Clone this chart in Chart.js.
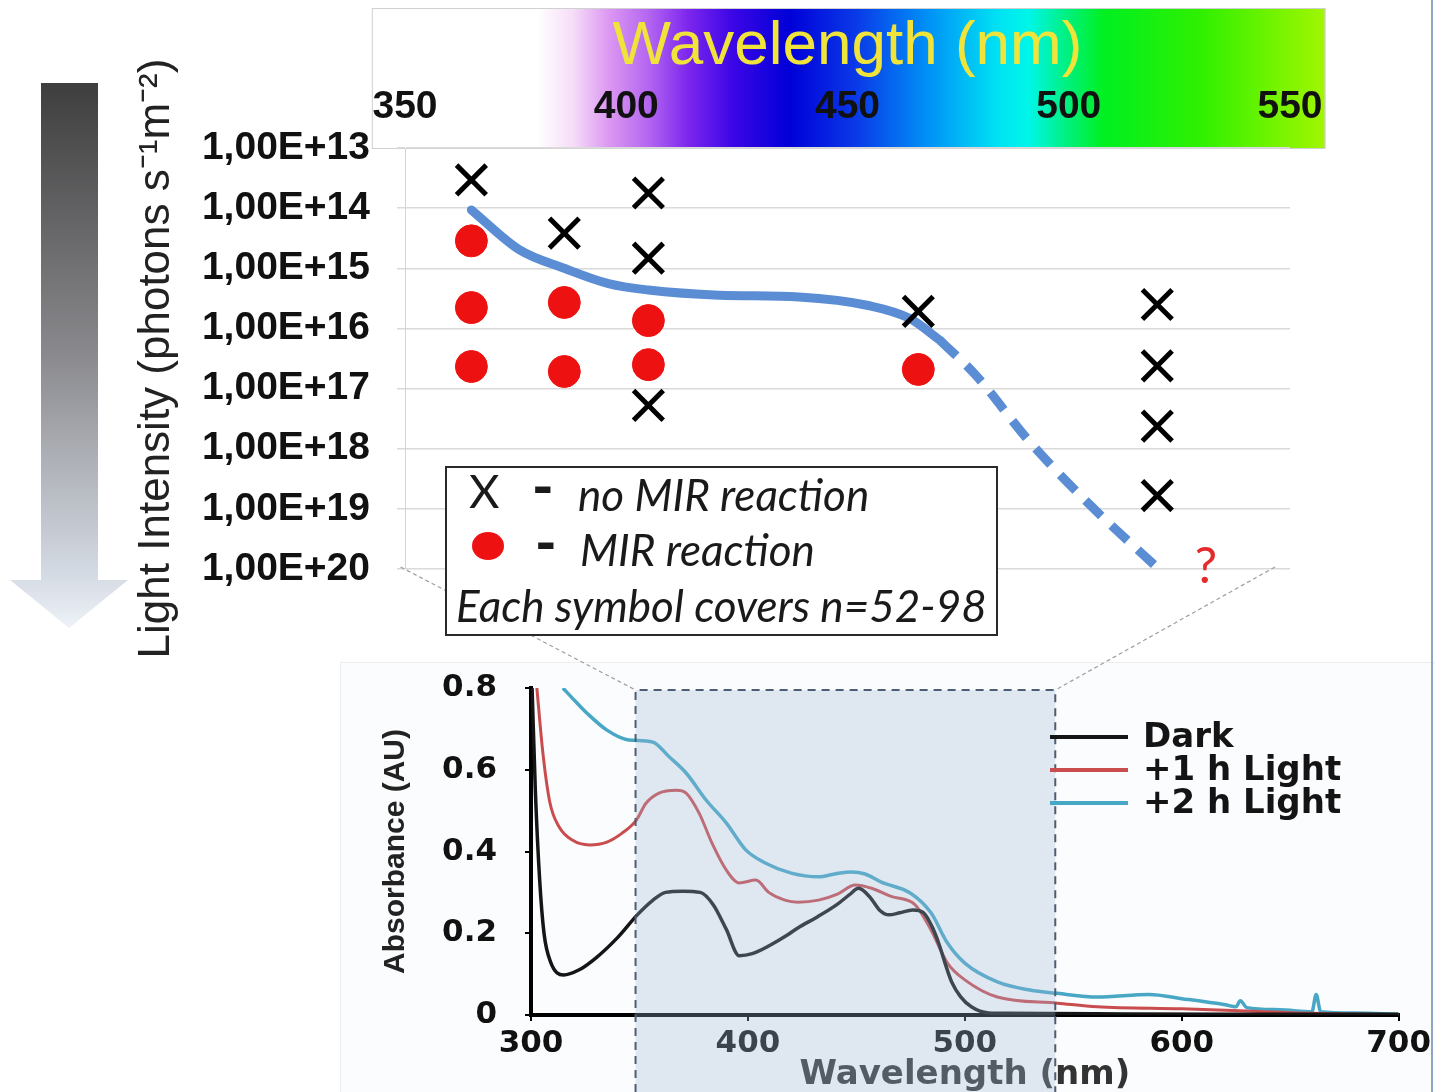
<!DOCTYPE html>
<html>
<head>
<meta charset="utf-8">
<script src="https://cdn.jsdelivr.net/npm/chart.js@4.4.1/dist/chart.umd.min.js"></script>
<style>
  body { margin: 0; background: #fff; }
  #page { position: relative; width: 1435px; height: 1092px; overflow: hidden; }
  #intensityChart { position: absolute; left: 0; top: 0; }
  #panel { position: absolute; left: 340px; top: 662px; width: 1095px; height: 430px; background: #fbfcfd;
           border-top: 1px solid #eceff2; border-left: 1px solid #eceff2; }
  #absorbanceChart { position: absolute; left: 340px; top: 560px; }
  #edge { position: absolute; left: 1431px; top: 0; width: 2px; height: 1092px; background: #8ea5c6; }
  #key { position: absolute; left: 445px; top: 466px; width: 549px; height: 166px; border: 2px solid #2a2a2a;
         background: #fff; font-family: Lato, "Open Sans", sans-serif; color: #1a1a1a; }
  #key span { position: absolute; white-space: nowrap; line-height: 1; }
  #key .it { font-style: italic; font-size: 44px; }
  #key .dash { font-weight: 900; font-size: 58px; }
  #key .dot { width: 32px; height: 28px; border-radius: 50%; background: #ee1111; }
</style>
</head>
<body>
<div id="page">
  <canvas id="intensityChart" width="1435" height="660"></canvas>
  <div id="panel"></div>
  <canvas id="absorbanceChart" width="1095" height="532"></canvas>
  <div id="key">
    <span style="left:22px;top:-1px;font-size:47px;">X</span>
    <span class="dash" style="left:85px;top:-12px;">-</span>
    <span class="it" style="left:131px;top:4px;">no MIR reaction</span>
    <span class="dot" style="left:25px;top:64px;"></span>
    <span class="dash" style="left:88px;top:44px;">-</span>
    <span class="it" style="left:133px;top:59px;">MIR reaction</span>
    <span class="it" style="left:9px;top:115px;">Each symbol covers n=52-98</span>
  </div>
  <div id="edge"></div>
</div>
<script>
// top panel: light intensity needed for a MIR reaction at each wavelength
const noReactionWl = [365, 386, 405, 405, 405, 466, 520, 520, 520, 520];
const noReactionInt = [3.4e13, 2.6e14, 5.6e13, 6.8e14, 1.9e17, 5.2e15, 4.0e15, 4.2e16, 4.2e17, 6.0e18];
const reactionWl = [365, 365, 365, 386, 386, 405, 405, 466];
const reactionInt = [3.5e14, 4.5e15, 4.3e16, 3.7e15, 5.2e16, 7.4e15, 4.0e16, 4.8e16];
const thresholdWl = [365, 376, 386, 396, 405, 421, 439, 455, 464, 471];
const thresholdInt = [1.07e14, 5.0e14, 1.0e15, 1.8e15, 2.3e15, 2.8e15, 3.0e15, 4.2e15, 6.8e15, 1.6e16];
const extrapWl = [471, 479, 491, 505, 520];
const extrapInt = [1.6e16, 6.0e16, 7.4e17, 8.9e18, 9.5e19];
const intensityTicks = [1e13, 1e14, 1e15, 1e16, 1e17, 1e18, 1e19, 1e20];

// bottom panel: absorbance spectra
const darkWl = [300.5, 302, 304, 306, 309, 315, 322, 330, 340, 349, 356, 362, 370, 378, 384, 390, 396, 402, 410, 418,
  423, 432, 441, 447, 451, 456, 461, 465, 470, 476, 481, 485, 488, 491, 494, 498, 503, 511, 520, 560, 620, 700];
const darkAbs = [0.8, 0.55, 0.33, 0.2, 0.13, 0.098, 0.11, 0.14, 0.19, 0.245, 0.28, 0.30, 0.303, 0.30, 0.27, 0.21, 0.145, 0.15, 0.17, 0.195,
  0.213, 0.24, 0.27, 0.295, 0.31, 0.29, 0.255, 0.245, 0.25, 0.257, 0.25, 0.215, 0.175, 0.125, 0.08, 0.045, 0.02, 0.005, 0.004, 0.003, 0.002, 0.002];
const light1Wl = [302.7, 305.5, 308.7, 313, 319, 327, 335, 342, 348.6, 353, 359, 367, 371.5, 377.5, 383.5, 390, 396, 403.7, 409.6, 417,
  423, 432.6, 441, 449.5, 457, 466, 477, 484.4, 492, 500, 515, 542.7, 561, 600, 630, 660, 700];
const light1Abs = [0.8, 0.64, 0.52, 0.46, 0.428, 0.416, 0.423, 0.445, 0.477, 0.518, 0.543, 0.55, 0.543, 0.494, 0.42, 0.355, 0.323, 0.33, 0.30, 0.281,
  0.276, 0.281, 0.295, 0.318, 0.31, 0.29, 0.27, 0.208, 0.127, 0.086, 0.044, 0.029, 0.02, 0.015, 0.01, 0.004, 0.001];
const light2Wl = [314.7, 320, 325.7, 335, 345, 356, 363.8, 371.5, 380.7, 390, 399, 408, 420, 432.6, 440, 447.7, 454, 461.5, 475, 484.4,
  492, 500, 515, 530, 542.7, 561, 585, 600, 620, 625, 627, 630, 645, 660, 662, 664, 680, 700];
const light2Abs = [0.8, 0.77, 0.739, 0.697, 0.673, 0.668, 0.631, 0.592, 0.526, 0.47, 0.404, 0.372, 0.347, 0.338, 0.345, 0.35, 0.345, 0.325, 0.298, 0.25,
  0.176, 0.127, 0.081, 0.061, 0.053, 0.044, 0.05, 0.04, 0.025, 0.02, 0.035, 0.018, 0.013, 0.008, 0.05, 0.008, 0.005, 0.002];
const absTicks = [0, 0.2, 0.4, 0.6, 0.8];

function pts(xs, ys) {
  return xs.map((x, i) => ({ x: x, y: ys[i] }));
}

// visible spectrum behind the top axis, stops in nm
const spectrumStops = [
  [342, "#ffffff"], [380, "#ffffff"], [388, "#f6dcf8"], [396, "#dc98f2"], [405, "#b466f0"],
  [414, "#7c26ee"], [424, "#3c06e6"], [437, "#0000d8"], [452, "#0a3ae8"], [468, "#0090f6"],
  [484, "#00e2f4"], [491, "#00f6e8"], [500, "#00f07a"], [508, "#00f020"], [530, "#30f000"], [558, "#a2f600"]
];

const decorPlugin = {
  id: "decor",
  beforeDraw(chart) {
    const ctx = chart.ctx;
    const xs = chart.scales.x;
    const area = chart.chartArea;
    ctx.save();
    // grey arrow pointing to higher intensity
    let g = ctx.createLinearGradient(0, 83, 0, 628);
    g.addColorStop(0, "#3e3e3e");
    g.addColorStop(0.5, "#8a8a8e");
    g.addColorStop(0.9, "#d4dae3");
    g.addColorStop(1, "#eef2f8");
    ctx.fillStyle = g;
    ctx.beginPath();
    ctx.moveTo(41, 83); ctx.lineTo(98, 83); ctx.lineTo(98, 580); ctx.lineTo(128, 580);
    ctx.lineTo(69, 628); ctx.lineTo(10, 580); ctx.lineTo(41, 580);
    ctx.closePath();
    ctx.fill();
    // spectrum band
    const left = xs.getPixelForValue(342.5), right = xs.getPixelForValue(558);
    const sg = ctx.createLinearGradient(left, 0, right, 0);
    spectrumStops.forEach(s => {
      const t = (xs.getPixelForValue(s[0]) - left) / (right - left);
      sg.addColorStop(Math.min(1, Math.max(0, t)), s[1]);
    });
    ctx.fillStyle = sg;
    ctx.fillRect(left, 8, right - left, area.top - 8);
    ctx.strokeStyle = "#d0d0d0";
    ctx.lineWidth = 1;
    ctx.strokeRect(left + 0.5, 8.5, right - left - 1, area.top - 8);
    ctx.restore();
  },
  afterDraw(chart) {
    const ctx = chart.ctx;
    ctx.save();
    ctx.fillStyle = "#e42a2a";
    ctx.font = "50px Lato, sans-serif";
    ctx.textAlign = "center";
    ctx.textBaseline = "middle";
    ctx.fillText("?", chart.scales.x.getPixelForValue(531), chart.scales.y.getPixelForValue(1e20) - 2);
    ctx.restore();
  }
};

const intensityChart = new Chart(document.getElementById("intensityChart"), {
  type: "scatter",
  data: {
    datasets: [
      {
        label: "no MIR reaction",
        data: pts(noReactionWl, noReactionInt),
        pointStyle: "crossRot",
        pointRadius: 21,
        pointBorderWidth: 5,
        borderColor: "#000000",
        backgroundColor: "#000000",
        order: 1,
      },
      {
        label: "MIR reaction",
        data: pts(reactionWl, reactionInt),
        pointStyle: "circle",
        pointRadius: 16,
        borderColor: "#ee1111",
        backgroundColor: "#ee1111",
        order: 1,
      },
      {
        type: "line",
        label: "threshold",
        data: pts(thresholdWl, thresholdInt),
        borderColor: "#5b8dd5",
        borderWidth: 9,
        borderCapStyle: "round",
        cubicInterpolationMode: "monotone",
        pointRadius: 0,
        fill: false,
        order: 2,
      },
      {
        type: "line",
        label: "extrapolation",
        data: pts(extrapWl, extrapInt),
        borderColor: "#5b8dd5",
        borderWidth: 9,
        borderDash: [22, 14],
        cubicInterpolationMode: "monotone",
        pointRadius: 0,
        fill: false,
        order: 2,
      },
    ],
  },
  options: {
    responsive: false,
    animation: false,
    layout: { padding: { left: 130, right: 145, top: 0, bottom: 91 } },
    plugins: { legend: { display: false }, tooltip: { enabled: false } },
    scales: {
      x: {
        type: "linear",
        position: "top",
        min: 350,
        max: 550,
        ticks: { stepSize: 50, color: "#111", padding: 17, font: { family: "'Liberation Sans', Arial", size: 39, weight: "bold" } },
        grid: { display: false, drawTicks: false },
        border: { display: false },
        title: {
          display: true,
          text: "Wavelength (nm)",
          color: "#f0e43a",
          padding: { top: 10, bottom: 0 },
          font: { family: "'Liberation Sans', Arial", size: 62 },
        },
        afterFit(s) { s.height = 148; },
      },
      y: {
        type: "logarithmic",
        reverse: true,
        min: 1e13,
        max: 1e20,
        afterBuildTicks(s) { s.ticks = intensityTicks.map(v => ({ value: v })); },
        ticks: {
          color: "#111",
          padding: 27,
          autoSkip: false,
          font: { family: "'Liberation Sans', Arial", size: 39, weight: "bold" },
          callback: v => "1,00E+" + Math.round(Math.log10(v)),
        },
        grid: { color: "#dadada", lineWidth: 1.5, tickLength: 8 },
        border: { color: "#d4d4d4" },
        title: {
          display: true,
          text: "Light Intensity (photons s\u207B\u00B9m\u207B\u00B2)",
          color: "#222",
          padding: { top: 0, bottom: 0 },
          font: { family: "'Liberation Sans', Arial", size: 44 },
        },
        afterFit(s) { s.width = 275; },
      },
    },
  },
  plugins: [decorPlugin],
});

const spectraColors = ["#151515", "#c94d4e", "#47a7c4"];

const overlayPlugin = {
  id: "overlay",
  afterDraw(chart) {
    const ctx = chart.ctx;
    const xs = chart.scales.x, ys = chart.scales.y;
    const off = chart.canvas.getBoundingClientRect();
    const page = document.getElementById("page").getBoundingClientRect();
    const ox = off.left - page.left, oy = off.top - page.top;
    const l = xs.getPixelForValue(348.2), r = xs.getPixelForValue(541.7), t = ys.getPixelForValue(0.795);
    ctx.save();
    // dashed zoom lines from the top panel
    const tx = intensityChart.scales.x, ty = intensityChart.scales.y;
    const yb = ty.getPixelForValue(1e20) - 2 - oy;
    ctx.strokeStyle = "#9d9d9d";
    ctx.lineWidth = 1.2;
    ctx.setLineDash([4, 3]);
    ctx.beginPath();
    ctx.moveTo(tx.getPixelForValue(349) - ox, yb); ctx.lineTo(l, t);
    ctx.moveTo(tx.getPixelForValue(546.6) - ox, yb); ctx.lineTo(r, t);
    ctx.stroke();
    // shaded region
    ctx.fillStyle = "rgba(160,185,215,0.3)";
    ctx.fillRect(l, t, r - l, chart.height - t);
    ctx.strokeStyle = "#4d5d72";
    ctx.lineWidth = 2;
    ctx.setLineDash([8, 6]);
    ctx.beginPath();
    ctx.moveTo(l, chart.height); ctx.lineTo(l, t); ctx.lineTo(r, t); ctx.lineTo(r, chart.height);
    ctx.stroke();
    ctx.setLineDash([]);
    // legend
    ctx.font = "bold 34px 'DejaVu Sans', sans-serif";
    ctx.textBaseline = "middle";
    ctx.textAlign = "left";
    const rows = [177, 210, 243];
    chart.data.datasets.forEach((ds, i) => {
      ctx.strokeStyle = ds.borderColor;
      ctx.lineWidth = 4;
      ctx.beginPath();
      ctx.moveTo(710, rows[i]); ctx.lineTo(788, rows[i]);
      ctx.stroke();
      ctx.fillStyle = "#141414";
      ctx.fillText(ds.label, 803, rows[i] + 1);
    });
    ctx.restore();
  }
};

const tickFont = { family: "'DejaVu Sans', sans-serif", size: 31, weight: "bold" };

new Chart(document.getElementById("absorbanceChart"), {
  type: "line",
  data: {
    datasets: [
      { label: "Dark", data: pts(darkWl, darkAbs), borderColor: spectraColors[0], borderWidth: 3.5 },
      { label: "+1 h Light", data: pts(light1Wl, light1Abs), borderColor: spectraColors[1], borderWidth: 3 },
      { label: "+2 h Light", data: pts(light2Wl, light2Abs), borderColor: spectraColors[2], borderWidth: 3.5 },
    ],
  },
  options: {
    responsive: false,
    animation: false,
    layout: { padding: { left: 0, right: 32, top: 128, bottom: 0 } },
    elements: { point: { radius: 0 }, line: { cubicInterpolationMode: "monotone", fill: false } },
    plugins: { legend: { display: false }, tooltip: { enabled: false } },
    scales: {
      x: {
        type: "linear",
        min: 300,
        max: 700,
        ticks: { stepSize: 100, color: "#111", padding: 4, font: tickFont },
        grid: { drawOnChartArea: false, color: "#000", lineWidth: 2, tickLength: 6 },
        border: { color: "#000", width: 4 },
        title: {
          display: true,
          text: "Wavelength (nm)",
          color: "#333",
          padding: { top: 0, bottom: 0 },
          font: { family: "'DejaVu Sans', sans-serif", size: 34, weight: "bold", lineHeight: 1 },
        },
        afterFit(s) { s.height = 77; },
      },
      y: {
        min: 0,
        max: 0.8,
        afterBuildTicks(s) { s.ticks = absTicks.map(v => ({ value: v })); },
        ticks: { color: "#111", padding: 28, font: tickFont, callback: v => (v === 0 ? "0" : v.toFixed(1)) },
        grid: { drawOnChartArea: false, color: "#000", lineWidth: 2, tickLength: 6 },
        border: { color: "#000", width: 4 },
        title: {
          display: true,
          text: "Absorbance (AU)",
          color: "#222",
          padding: { top: 38, bottom: 0 },
          font: { family: "'Liberation Sans', Arial", size: 30, weight: "bold" },
        },
        afterFit(s) { s.width = 191; },
      },
    },
  },
  plugins: [overlayPlugin],
});
</script>
</body>
</html>
